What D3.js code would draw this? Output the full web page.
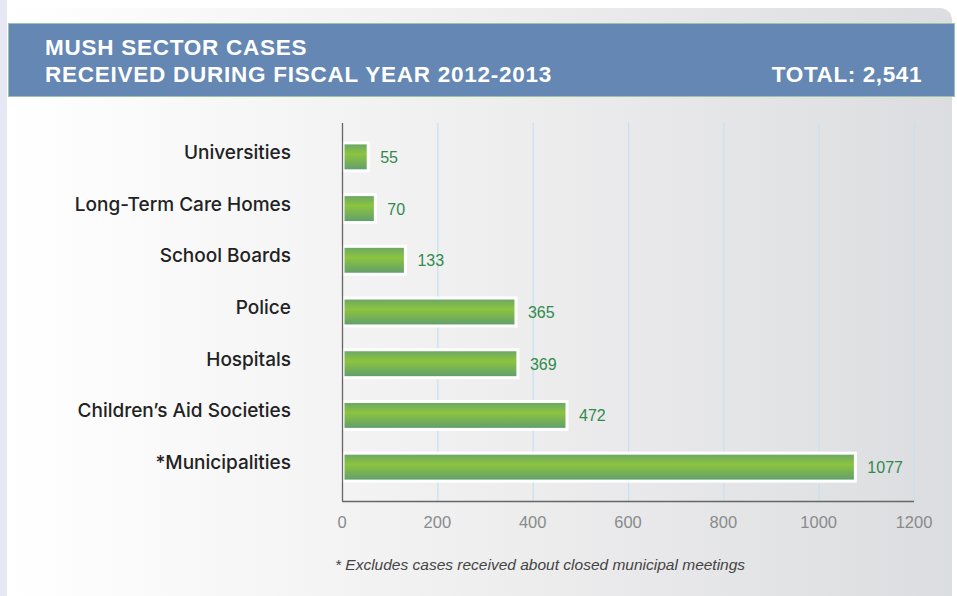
<!DOCTYPE html>
<html>
<head>
<meta charset="utf-8">
<script src="https://cdn.jsdelivr.net/npm/d3@7"></script>
<style>
  body { margin: 0; background: #fff; }
  svg { display: block; }
</style>
</head>
<body>
<div id="chart-area"></div>
<script>
// data
const categories = ["Universities", "Long-Term Care Homes", "School Boards", "Police",
  "Hospitals", "Children\u2019s Aid Societies", "*Municipalities"];
const cases = [55, 70, 133, 365, 369, 472, 1077];
const tickValues = [0, 200, 400, 600, 800, 1000, 1200];
const titleLines = ["MUSH SECTOR CASES", "RECEIVED DURING FISCAL YEAR 2012-2013"];
const totalText = "TOTAL: 2,541";
const footnote = "* Excludes cases received about closed municipal meetings";

const W = 957, H = 596;
const font = "'Liberation Sans', Arial, Helvetica, sans-serif";
const labelFont = "Inter, 'Liberation Sans', Arial, sans-serif";

let svg = d3.select("#chart-area")
  .append("svg")
    .attr("width", W)
    .attr("height", H);

let defs = svg.append("defs");

// panel background gradient
let bg = defs.append("linearGradient").attr("id", "bgGrad")
  .attr("x1", 0).attr("x2", 1).attr("y1", 0).attr("y2", 0);
bg.append("stop").attr("offset", "0%").attr("stop-color", "#ffffff");
bg.append("stop").attr("offset", "55%").attr("stop-color", "#ededee");
bg.append("stop").attr("offset", "100%").attr("stop-color", "#dcdde0");

// bar gradient (vertical)
let bar = defs.append("linearGradient").attr("id", "barGrad")
  .attr("x1", 0).attr("x2", 0).attr("y1", 0).attr("y2", 1);
bar.append("stop").attr("offset", "0%").attr("stop-color", "#68a46a");
bar.append("stop").attr("offset", "40%").attr("stop-color", "#8cc43e");
bar.append("stop").attr("offset", "100%").attr("stop-color", "#5e9c70");

// left lavender strip
svg.append("rect")
  .attr("x", 0).attr("y", 0).attr("width", 7).attr("height", H)
  .attr("fill", "#e6e8f3");

// panel
svg.append("rect")
  .attr("x", 7).attr("y", 8).attr("width", 945).attr("height", H + 20)
  .attr("rx", 12)
  .attr("fill", "url(#bgGrad)");

// header band
svg.append("rect")
  .attr("x", 8.5).attr("y", 23.5).attr("width", 946).attr("height", 73)
  .attr("fill", "#6587b3")
  .attr("stroke", "#9cc3a4")
  .attr("stroke-width", 1);

svg.selectAll(".title")
  .data(titleLines)
  .enter().append("text")
    .attr("class", "title")
    .attr("x", 45)
    .attr("y", (d, i) => 55 + i * 27)
    .attr("fill", "#fff")
    .attr("font-family", font)
    .attr("font-weight", "bold")
    .attr("font-size", "22.5px")
    .attr("letter-spacing", "0.75px")
    .text(d => d);

svg.append("text")
  .attr("x", 922)
  .attr("y", 82)
  .attr("text-anchor", "end")
  .attr("fill", "#fff")
  .attr("font-family", font)
  .attr("font-weight", "bold")
  .attr("font-size", "22.5px")
  .attr("letter-spacing", "0.6px")
  .text(totalText);

// scales
let x = d3.scaleLinear()
  .domain([0, 1200])
  .range([342, 914]);

let y = d3.scaleBand()
  .domain(categories)
  .range([131, 493])
  .paddingInner(0.46)
  .paddingOuter(0.23);

const axisTop = 123, axisBottom = 501;

// gridlines
svg.append("g")
  .selectAll("line")
  .data(tickValues.slice(1))
  .enter().append("line")
    .attr("x1", d => x(d) + 0.5).attr("x2", d => x(d) + 0.5)
    .attr("y1", axisTop).attr("y2", axisBottom)
    .attr("stroke", "#c3e2f1")
    .attr("stroke-width", 1.2);

// bars
svg.append("g")
  .selectAll("rect")
  .data(cases)
  .enter().append("rect")
    .attr("x", x(0) + 1)
    .attr("y", (d, i) => y(categories[i]))
    .attr("width", d => x(d) - x(0) - 1)
    .attr("height", y.bandwidth())
    .attr("fill", "url(#barGrad)")
    .attr("stroke", "#fff")
    .attr("stroke-width", 3);

// value labels
svg.append("g")
  .selectAll("text")
  .data(cases)
  .enter().append("text")
    .attr("x", d => x(d) + 12)
    .attr("y", (d, i) => y(categories[i]) + y.bandwidth() / 2 + 6)
    .attr("fill", "#2f8a4c")
    .attr("font-family", font)
    .attr("font-size", "16px")
    .text(d => d);

// axes lines
svg.append("line")
  .attr("x1", x(0) + 0.5).attr("x2", x(0) + 0.5)
  .attr("y1", axisTop).attr("y2", axisBottom)
  .attr("stroke", "#666").attr("stroke-width", 1.3);
svg.append("line")
  .attr("x1", x(0)).attr("x2", x(1200))
  .attr("y1", axisBottom + 0.5).attr("y2", axisBottom + 0.5)
  .attr("stroke", "#666").attr("stroke-width", 1.3);

// category labels
svg.append("g")
  .selectAll("text")
  .data(categories)
  .enter().append("text")
    .attr("x", 291)
    .attr("y", d => y(d) + y.bandwidth() / 2 + 2)
    .attr("text-anchor", "end")
    .attr("fill", "#222")
    .attr("font-family", labelFont)
    .attr("font-weight", 500)
    .attr("font-size", "19px")
    .text(d => d);

// x tick labels
svg.append("g")
  .selectAll("text")
  .data(tickValues)
  .enter().append("text")
    .attr("x", d => x(d))
    .attr("y", 528)
    .attr("text-anchor", "middle")
    .attr("fill", "#8a8a8a")
    .attr("font-family", font)
    .attr("font-size", "16.5px")
    .text(d => d);

// footnote
svg.append("text")
  .attr("x", 335)
  .attr("y", 570)
  .attr("fill", "#444")
  .attr("font-family", font)
  .attr("font-style", "italic")
  .attr("font-size", "15.5px")
  .text(footnote);
</script>
</body>
</html>
